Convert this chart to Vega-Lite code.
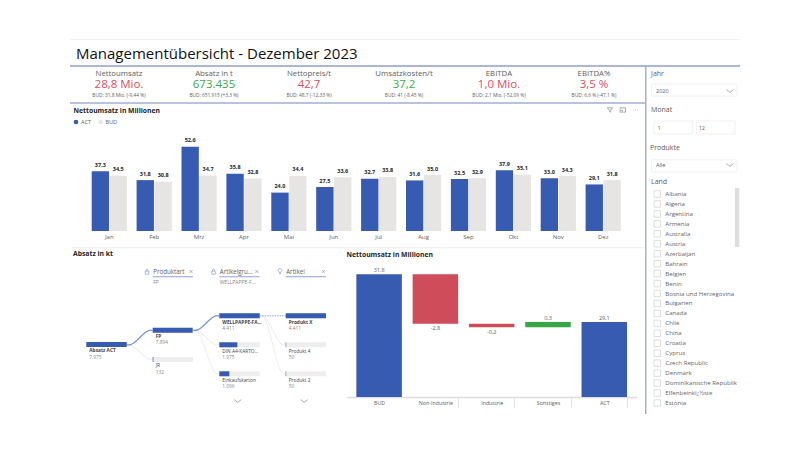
{
"$schema":"https://vega.github.io/schema/vega-lite/v6.json",
"width":800,"height":466,"padding":0,"autosize":{"type":"none"},"background":"#ffffff",
"config":{"view":{"stroke":null},"font":"Open Sans"},
"title":{"text":"Managementübersicht  - Dezember 2023","anchor":"start","frame":"group","offset":0,"dx":76,"dy":74,"fontSize":15,"fontWeight":"normal","font":"Open Sans","color":"#111111","baseline":"alphabetic"},
"resolve":{"scale":{"x":"independent","y":"independent","color":"independent","shape":"independent","size":"independent","strokeDash":"independent"},"axis":{"x":"independent","y":"independent"}},
"layer":[
{"data":{"values":[{"teil":"Rahmen oben"}]},"mark":{"type":"rect","color":"#f1f1f1"},"encoding":{"x":{"field":"teil","type":"nominal","axis":null,"scale":{"type":"band","range":[70,740],"padding":0}},"y":{"field":"teil","type":"nominal","axis":null,"scale":{"type":"band","range":[39,40],"padding":0}}}},
{"data":{"values":[{"teil":"Kopflinie"}]},"mark":{"type":"rect","color":"#8f9fcb"},"encoding":{"x":{"field":"teil","type":"nominal","axis":null,"scale":{"type":"band","range":[70,740],"padding":0}},"y":{"field":"teil","type":"nominal","axis":null,"scale":{"type":"band","range":[65.3,66.8],"padding":0}}}},
{"data":{"values":[{"teil":"KPI-Linie"}]},"mark":{"type":"rect","color":"#a3afd3"},"encoding":{"x":{"field":"teil","type":"nominal","axis":null,"scale":{"type":"band","range":[70,645],"padding":0}},"y":{"field":"teil","type":"nominal","axis":null,"scale":{"type":"band","range":[102.2,103.7],"padding":0}}}},
{"data":{"values":[{"teil":"Trenner"}]},"mark":{"type":"rect","color":"#efefef"},"encoding":{"x":{"field":"teil","type":"nominal","axis":null,"scale":{"type":"band","range":[72,645],"padding":0}},"y":{"field":"teil","type":"nominal","axis":null,"scale":{"type":"band","range":[247.3,248.3],"padding":0}}}},
{"data":{"values":[{"teil":"Seitenlinie"}]},"mark":{"type":"rect","color":"#a3afd3"},"encoding":{"x":{"field":"teil","type":"nominal","axis":null,"scale":{"type":"band","range":[645,646.5],"padding":0}},"y":{"field":"teil","type":"nominal","axis":null,"scale":{"type":"band","range":[66,414],"padding":0}}}},
{"data":{"values":[
{"kpi":"Nettoumsatz","wert":"28,8 Mio.","bud":"BUD: 31,8 Mio. (-9,44 %)","lage":"schlecht"},
{"kpi":"Absatz in t","wert":"673.435","bud":"BUD: 651.915 (+3,3 %)","lage":"gut"},
{"kpi":"Nettopreis/t","wert":"42,7","bud":"BUD: 48,7 (-12,33 %)","lage":"schlecht"},
{"kpi":"Umsatzkosten/t","wert":"37,2","bud":"BUD: 41 (-8,45 %)","lage":"gut"},
{"kpi":"EBITDA","wert":"1,0 Mio.","bud":"BUD: 2,1 Mio. (-52,09 %)","lage":"schlecht"},
{"kpi":"EBITDA%","wert":"3,5 %","bud":"BUD: 6,6 % (-47,1 %)","lage":"schlecht"}]},
"encoding":{"x":{"field":"kpi","type":"nominal","sort":null,"axis":null,"scale":{"type":"point","range":[119,594],"padding":0}}},
"layer":[
{"mark":{"type":"text","fontSize":7.8,"color":"#605e5c"},"encoding":{"text":{"field":"kpi"},"y":{"datum":"titel","type":"nominal","axis":null,"scale":{"type":"point","domain":["titel","wert","bud"],"range":[73.5,96],"padding":0}}}},
{"mark":{"type":"text","fontSize":11.5,"dy":0.7},"encoding":{"text":{"field":"wert"},"y":{"datum":"wert","type":"nominal","axis":null},"color":{"field":"lage","type":"nominal","legend":null,"scale":{"domain":["schlecht","gut"],"range":["#d9505f","#3fa84a"]}}}},
{"mark":{"type":"text","fontSize":4.8,"color":"#605e5c"},"encoding":{"text":{"field":"bud"},"y":{"datum":"bud","type":"nominal","axis":null}}}
]},
{"data":{"values":[{"symbol":"Filter","form":"Filter"},{"symbol":"Fokus","form":"Fokus"},{"symbol":"Mehr","form":"Mehr"}]},
"mark":{"type":"point","filled":false,"size":30,"color":"#8a8a8a","strokeWidth":0.7,"opacity":1},
"encoding":{"x":{"field":"symbol","type":"nominal","sort":null,"axis":null,"scale":{"type":"point","range":[610,635.5],"padding":0}},
"y":{"field":"form","type":"nominal","axis":null,"scale":{"type":"point","range":[110,110],"padding":0}},
"shape":{"field":"symbol","type":"nominal","legend":null,"scale":{"domain":["Filter","Fokus","Mehr"],"range":["M-1,-0.8 H1 L0.2,0.1 V0.8 L-0.2,0.5 V0.1 Z","M-1,-0.2 V-0.8 H1 V0.8 H0.2 M-1,0.1 H-0.1 V0.8 H-1 Z","M-0.9,0 H-0.7 M-0.1,0 H0.1 M0.7,0 H0.9"]}}}},
{"data":{"values":[
{"monat":"Jan","serie":"ACT","wert":37.3,"label":"37,3"},{"monat":"Jan","serie":"BUD","wert":34.5,"label":"34,5"},
{"monat":"Feb","serie":"ACT","wert":31.8,"label":"31,8"},{"monat":"Feb","serie":"BUD","wert":30.8,"label":"30,8"},
{"monat":"Mrz","serie":"ACT","wert":52.6,"label":"52,6"},{"monat":"Mrz","serie":"BUD","wert":34.7,"label":"34,7"},
{"monat":"Apr","serie":"ACT","wert":35.8,"label":"35,8"},{"monat":"Apr","serie":"BUD","wert":32.8,"label":"32,8"},
{"monat":"Mai","serie":"ACT","wert":24.0,"label":"24,0"},{"monat":"Mai","serie":"BUD","wert":34.4,"label":"34,4"},
{"monat":"Jun","serie":"ACT","wert":27.5,"label":"27,5"},{"monat":"Jun","serie":"BUD","wert":33.6,"label":"33,6"},
{"monat":"Jul","serie":"ACT","wert":32.7,"label":"32,7"},{"monat":"Jul","serie":"BUD","wert":33.8,"label":"33,8"},
{"monat":"Aug","serie":"ACT","wert":31.6,"label":"31,6"},{"monat":"Aug","serie":"BUD","wert":35.0,"label":"35,0"},
{"monat":"Sep","serie":"ACT","wert":32.5,"label":"32,5"},{"monat":"Sep","serie":"BUD","wert":32.9,"label":"32,9"},
{"monat":"Okt","serie":"ACT","wert":37.9,"label":"37,9"},{"monat":"Okt","serie":"BUD","wert":35.1,"label":"35,1"},
{"monat":"Nov","serie":"ACT","wert":33.0,"label":"33,0"},{"monat":"Nov","serie":"BUD","wert":34.3,"label":"34,3"},
{"monat":"Dez","serie":"ACT","wert":29.1,"label":"29,1"},{"monat":"Dez","serie":"BUD","wert":31.8,"label":"31,8"}]},
"encoding":{
"x":{"field":"monat","type":"nominal","sort":null,"title":"Nettoumsatz in Millionen","scale":{"type":"band","range":[86.85,625.65],"paddingInner":0.216,"paddingOuter":0.108},
"axis":{"orient":"bottom","offset":-235,"domain":false,"ticks":false,"grid":false,"labelAngle":0,"labelFontSize":6,"labelColor":"#605e5c","labelPadding":2.5,"titleFontSize":6.8,"titleFontWeight":"bold","titleColor":"#252423","titleX":73,"titleY":-121,"titleAlign":"left","titleBaseline":"middle","titleAnchor":"start"}},
"xOffset":{"field":"serie","type":"nominal","scale":{"domain":["ACT","BUD"],"paddingInner":0.03,"paddingOuter":0}},
"y":{"field":"wert","type":"quantitative","axis":null,"scale":{"domain":[0,60],"range":[231,135],"nice":false}}},
"layer":[
{"mark":{"type":"bar"},"encoding":{"color":{"field":"serie","type":"nominal","scale":{"domain":["ACT","BUD"],"range":["#365bb0","#e6e5e3"]},"legend":{"orient":"none","legendX":72.5,"legendY":118.5,"direction":"horizontal","title":null,"symbolType":"circle","symbolSize":22,"labelFontSize":5.5,"labelColor":"#605e5c","labelOffset":1.5,"columnPadding":5.5,"padding":0}}}},
{"mark":{"type":"text","fontSize":5.5,"fontWeight":"bold","color":"#252423","baseline":"bottom","dy":-3.5},"encoding":{"text":{"field":"label"}}}
]},
{"data":{"values":[{"titel":"Absatz in kt"}]},"mark":{"type":"text","fontSize":6.8,"fontWeight":"bold","color":"#252423","align":"left"},"encoding":{"text":{"field":"titel"},"x":{"field":"titel","type":"nominal","axis":null,"scale":{"type":"point","range":[73,73]}},"y":{"field":"titel","type":"nominal","axis":null,"scale":{"type":"point","range":[254,254]}}}},
{"encoding":{"x":{"field":"spalte","type":"quantitative","axis":null,"scale":{"domain":[0,3],"range":[86.3,285.7],"nice":false,"zero":false}}},
"layer":[
{"data":{"values":[{"spalte":1,"ende":1.607,"titel":"Produktart","wahl":"FP"},{"spalte":2,"ende":2.607,"titel":"Artikelgru...","wahl":"WELLPAPPE-F..."},{"spalte":3,"ende":3.607,"titel":"Artikel","wahl":""}]},
"mark":{"type":"rule","color":"#8ea2dc","strokeWidth":1},"encoding":{"x2":{"field":"ende"},"y":{"datum":"linie","type":"nominal","axis":null,"scale":{"type":"point","domain":["titel","linie","wahl"],"range":[271.5,282],"padding":0}}}},
{"data":{"values":[{"spalte":1,"ende":1.607,"titel":"Produktart","wahl":"FP"},{"spalte":2,"ende":2.607,"titel":"Artikelgru...","wahl":"WELLPAPPE-F..."},{"spalte":3,"ende":3.607,"titel":"Artikel","wahl":""}]},
"mark":{"type":"text","fontSize":6.2,"color":"#605e5c","align":"left","dx":0.5},"encoding":{"text":{"field":"titel"},"y":{"datum":"titel","type":"nominal","axis":null}}},
{"data":{"values":[{"spalte":1,"ende":1.607,"titel":"Produktart","wahl":"FP"},{"spalte":2,"ende":2.607,"titel":"Artikelgru...","wahl":"WELLPAPPE-F..."},{"spalte":3,"ende":3.607,"titel":"Artikel","wahl":""}]},
"mark":{"type":"text","fontSize":5,"color":"#8a8886","align":"left","dx":0.5},"encoding":{"text":{"field":"wahl"},"y":{"datum":"wahl","type":"nominal","axis":null}}},
{"data":{"values":[{"spalte":0.914,"symbol":"Schloss"},{"spalte":1.576,"symbol":"Schließen"},{"spalte":1.914,"symbol":"Schloss"},{"spalte":2.566,"symbol":"Schließen"},{"spalte":2.914,"symbol":"Lampe"},{"spalte":3.566,"symbol":"Schließen"}]},
"mark":{"type":"point","filled":false,"size":30,"strokeWidth":0.6,"opacity":1},
"encoding":{"y":{"datum":"titel","type":"nominal","axis":null},
"shape":{"field":"symbol","type":"nominal","legend":null,"scale":{"domain":["Schloss","Schließen","Lampe"],"range":["M-0.65,-0.1 H0.65 V1 H-0.65 Z M-0.35,-0.1 V-0.55 A0.35,0.35 0 0 1 0.35,-0.55 V-0.1","M-0.55,-0.55 L0.55,0.55 M-0.55,0.55 L0.55,-0.55","M-0.25,0.65 H0.25 M-0.25,0.9 H0.25 M-0.2,0.4 C-0.2,0.1 -0.7,-0.1 -0.7,-0.4 A0.7,0.7 0 0 1 0.7,-0.4 C0.7,-0.1 0.2,0.1 0.2,0.4 Z"]}},
"color":{"field":"symbol","type":"nominal","legend":null,"scale":{"domain":["Schloss","Schließen","Lampe"],"range":["#7b93d6","#8a8886","#7b93d6"]}}}}
]},
{"data":{"values":[
{"link":"Absatz-JR","art":"inaktiv","spalte":0.607,"reihe":1},{"link":"Absatz-JR","art":"inaktiv","spalte":0.64,"reihe":1},{"link":"Absatz-JR","art":"inaktiv","spalte":0.97,"reihe":1.5},{"link":"Absatz-JR","art":"inaktiv","spalte":1,"reihe":1.5},
{"link":"FP-DIN","art":"inaktiv","spalte":1.607,"reihe":0.5},{"link":"FP-DIN","art":"inaktiv","spalte":1.64,"reihe":0.5},{"link":"FP-DIN","art":"inaktiv","spalte":1.97,"reihe":1},{"link":"FP-DIN","art":"inaktiv","spalte":2,"reihe":1},
{"link":"FP-Ein","art":"inaktiv","spalte":1.607,"reihe":0.5},{"link":"FP-Ein","art":"inaktiv","spalte":1.64,"reihe":0.5},{"link":"FP-Ein","art":"inaktiv","spalte":1.97,"reihe":2},{"link":"FP-Ein","art":"inaktiv","spalte":2,"reihe":2},
{"link":"W-P4","art":"inaktiv","spalte":2.607,"reihe":0},{"link":"W-P4","art":"inaktiv","spalte":2.64,"reihe":0},{"link":"W-P4","art":"inaktiv","spalte":2.97,"reihe":1},{"link":"W-P4","art":"inaktiv","spalte":3,"reihe":1},
{"link":"W-P2","art":"inaktiv","spalte":2.607,"reihe":0},{"link":"W-P2","art":"inaktiv","spalte":2.64,"reihe":0},{"link":"W-P2","art":"inaktiv","spalte":2.97,"reihe":2},{"link":"W-P2","art":"inaktiv","spalte":3,"reihe":2},
{"link":"Absatz-FP","art":"aktiv","spalte":0.607,"reihe":1},{"link":"Absatz-FP","art":"aktiv","spalte":0.64,"reihe":1},{"link":"Absatz-FP","art":"aktiv","spalte":0.97,"reihe":0.5},{"link":"Absatz-FP","art":"aktiv","spalte":1,"reihe":0.5},
{"link":"FP-W","art":"aktiv","spalte":1.607,"reihe":0.5},{"link":"FP-W","art":"aktiv","spalte":1.64,"reihe":0.5},{"link":"FP-W","art":"aktiv","spalte":1.97,"reihe":0},{"link":"FP-W","art":"aktiv","spalte":2,"reihe":0},
{"link":"W-X","art":"auswahl","spalte":2.607,"reihe":0},{"link":"W-X","art":"auswahl","spalte":3,"reihe":0}]},
"mark":{"type":"line","interpolate":"monotone"},
"encoding":{"x":{"field":"spalte","type":"quantitative","axis":null,"scale":{"domain":[0,3],"range":[86.3,285.7],"nice":false,"zero":false}},
"y":{"field":"reihe","type":"quantitative","axis":null,"scale":{"domain":[0,2],"range":[315.8,373.8],"nice":false,"zero":false}},
"detail":{"field":"link"},
"color":{"field":"art","type":"nominal","legend":null,"scale":{"domain":["aktiv","inaktiv","auswahl"],"range":["#7b93d6","#eeeeee","#7b93d6"]}},
"strokeDash":{"field":"art","type":"nominal","legend":null,"scale":{"domain":["aktiv","inaktiv","auswahl"],"range":[[1,0],[1,0],[1.5,1]]}},
"size":{"field":"art","type":"nominal","legend":null,"scale":{"domain":["aktiv","inaktiv","auswahl"],"range":[1.3,0.8,1.5]}}}},
{"data":{"values":[{"knoten":"Absatz ACT","wert":7975,"max":7975,"text":"7.975"}]},
"encoding":{"y":{"field":"knoten","type":"nominal","axis":null,"scale":{"type":"band","range":[342,347],"padding":0}}},
"layer":[
{"mark":{"type":"bar"},"encoding":{"x":{"field":"max","type":"quantitative","axis":null,"scale":{"domain":[0,7975],"range":[86.3,126.7],"nice":false}},"color":{"value":"#365bb0"}}},
{"mark":{"type":"text","fontSize":4.8,"fontWeight":"bold","color":"#444444","align":"left","dx":3,"dy":6.8},"encoding":{"text":{"field":"knoten"},"x":{"datum":0,"type":"quantitative"}}},
{"mark":{"type":"text","fontSize":4.8,"color":"#8a8886","align":"left","dx":3,"dy":13.2},"encoding":{"text":{"field":"text"},"x":{"datum":0,"type":"quantitative"}}}
]},
{"data":{"values":[{"knoten":"FP","wert":7894,"max":7975,"text":"7.894","aktiv":true},{"knoten":"JR","wert":132,"max":7975,"text":"132","aktiv":false}]},
"encoding":{"y":{"field":"knoten","type":"nominal","sort":null,"axis":null,"scale":{"type":"band","range":[327.7,362],"paddingInner":0.829,"paddingOuter":0}}},
"layer":[
{"mark":{"type":"bar","color":"#eeeeee"},"encoding":{"x":{"field":"max","type":"quantitative","axis":null,"scale":{"domain":[0,7975],"range":[152.7,193.1],"nice":false}}}},
{"mark":{"type":"bar","color":"#365bb0"},"encoding":{"x":{"field":"wert","type":"quantitative"}}},
{"mark":{"type":"text","fontSize":4.8,"fontWeight":{"expr":"datum.aktiv?'bold':'normal'"},"color":"#444444","align":"left","dx":3,"dy":6.8},"encoding":{"text":{"field":"knoten"},"x":{"datum":0,"type":"quantitative"}}},
{"mark":{"type":"text","fontSize":4.8,"color":"#8a8886","align":"left","dx":3,"dy":13.2},"encoding":{"text":{"field":"text"},"x":{"datum":0,"type":"quantitative"}}}
]},
{"data":{"values":[{"knoten":"WELLPAPPE-FA...","wert":4411,"max":4411,"text":"4.411","aktiv":true},{"knoten":"DIN A4-KARTO...","wert":1975,"max":4411,"text":"1.975","aktiv":false},{"knoten":"Einkaufskarton","wert":1096,"max":4411,"text":"1.096","aktiv":false}]},
"encoding":{"y":{"field":"knoten","type":"nominal","sort":null,"axis":null,"scale":{"type":"band","range":[313.3,376.3],"paddingInner":0.8276,"paddingOuter":0}}},
"layer":[
{"mark":{"type":"bar","color":"#eeeeee"},"encoding":{"x":{"field":"max","type":"quantitative","axis":null,"scale":{"domain":[0,4411],"range":[219.3,259.7],"nice":false}}}},
{"mark":{"type":"bar","color":"#365bb0"},"encoding":{"x":{"field":"wert","type":"quantitative"}}},
{"mark":{"type":"text","fontSize":4.8,"fontWeight":{"expr":"datum.aktiv?'bold':'normal'"},"color":"#444444","align":"left","dx":3,"dy":6.8},"encoding":{"text":{"field":"knoten"},"x":{"datum":0,"type":"quantitative"}}},
{"mark":{"type":"text","fontSize":4.8,"color":"#8a8886","align":"left","dx":3,"dy":13.2},"encoding":{"text":{"field":"text"},"x":{"datum":0,"type":"quantitative"}}}
]},
{"data":{"values":[{"knoten":"Produkt X","wert":4411,"max":4411,"text":"4.411","aktiv":true},{"knoten":"Produkt 4","wert":50,"max":4411,"text":"50","aktiv":false},{"knoten":"Produkt 2","wert":50,"max":4411,"text":"50","aktiv":false}]},
"encoding":{"y":{"field":"knoten","type":"nominal","sort":null,"axis":null,"scale":{"type":"band","range":[313.3,376.3],"paddingInner":0.8276,"paddingOuter":0}}},
"layer":[
{"mark":{"type":"bar","color":"#eeeeee"},"encoding":{"x":{"field":"max","type":"quantitative","axis":null,"scale":{"domain":[0,4411],"range":[285.7,326],"nice":false}}}},
{"mark":{"type":"bar","color":"#365bb0"},"encoding":{"x":{"field":"wert","type":"quantitative"}}},
{"mark":{"type":"text","fontSize":4.8,"fontWeight":{"expr":"datum.aktiv?'bold':'normal'"},"color":"#444444","align":"left","dx":3,"dy":6.8},"encoding":{"text":{"field":"knoten"},"x":{"datum":0,"type":"quantitative"}}},
{"mark":{"type":"text","fontSize":4.8,"color":"#8a8886","align":"left","dx":3,"dy":13.2},"encoding":{"text":{"field":"text"},"x":{"datum":0,"type":"quantitative"}}}
]},
{"data":{"values":[{"stelle":"Artikelgruppe"},{"stelle":"Artikel"}]},"mark":{"type":"point","filled":false,"size":50,"strokeWidth":0.7,"color":"#8a8886","opacity":1,"shape":"M-1,-0.4 L0,0.4 L1,-0.4"},
"encoding":{"x":{"field":"stelle","type":"nominal","sort":null,"axis":null,"scale":{"type":"point","range":[237.7,304.3],"padding":0}},"y":{"datum":"unten","type":"nominal","axis":null,"scale":{"type":"point","domain":["unten"],"range":[401,401]}}}},
{"data":{"values":[
{"stufe":"BUD","von":0,"bis":31.8,"art":"Summe","label":"31,8","richtung":"auf"},
{"stufe":"Non-Industrie","von":31.8,"bis":29.0,"art":"Minus","label":"-2,8","richtung":"ab"},
{"stufe":"Industrie","von":29.0,"bis":28.8,"art":"Minus","label":"-0,2","richtung":"ab"},
{"stufe":"Sonstiges","von":28.8,"bis":29.1,"art":"Plus","label":"0,3","richtung":"auf"},
{"stufe":"ACT","von":0,"bis":29.1,"art":"Summe","label":"29,1","richtung":"auf"}]},
"encoding":{"x":{"field":"stufe","type":"nominal","sort":null,"title":"Nettoumsatz in Millionen","scale":{"type":"band","range":[346.7,636.7],"paddingInner":0.192,"paddingOuter":0.1715},
"axis":{"orient":"bottom","offset":-69,"labelAngle":0,"grid":false,"domain":true,"domainColor":"#dcdcdc","domainWidth":1.5,"ticks":true,"tickBand":"extent","tickOffset":-5.4,"tickColor":"#dcdcdc","tickSize":10,"tickWidth":0.8,"tickOpacity":{"condition":{"test":"datum.index==0||datum.extra","value":0},"value":1},"labelFontSize":5.3,"labelColor":"#605e5c","labelPadding":-6.5,"titleFontSize":6.8,"titleFontWeight":"bold","titleColor":"#252423","titleX":346,"titleY":-143,"titleAlign":"left","titleBaseline":"middle","titleAnchor":"start"}}},
"layer":[
{"mark":{"type":"bar"},"encoding":{"y":{"field":"von","type":"quantitative","axis":null,"scale":{"domain":[24.86,31.8],"range":[397,274.3],"nice":false,"zero":false,"clamp":true}},"y2":{"field":"bis"},"color":{"field":"art","type":"nominal","legend":null,"scale":{"domain":["Summe","Minus","Plus"],"range":["#365bb0","#cf4c5a","#35a746"]}}}},
{"transform":[{"filter":"datum.richtung=='auf'"}],"mark":{"type":"text","fontSize":5.5,"color":"#605e5c","baseline":"bottom","dy":-1.5},"encoding":{"text":{"field":"label"},"y":{"field":"bis","type":"quantitative"}}},
{"transform":[{"filter":"datum.richtung=='ab'"}],"mark":{"type":"text","fontSize":5.5,"color":"#605e5c","baseline":"top","dy":2.5},"encoding":{"text":{"field":"label"},"y":{"field":"bis","type":"quantitative"}}}
]},
{"data":{"values":[{"feld":"Jahr"},{"feld":"Produkte"}]},"mark":{"type":"rect","fill":"#ffffff","stroke":"#eeeeee","strokeWidth":0.8},
"encoding":{"x":{"datum":"Auswahl","type":"nominal","axis":null,"scale":{"type":"band","range":[651.5,737],"padding":0}},"y":{"field":"feld","type":"nominal","sort":null,"axis":null,"scale":{"type":"band","range":[84,172],"paddingInner":0.84,"paddingOuter":0}}}},
{"data":{"values":[{"feld":"von","wert":"1"},{"feld":"bis","wert":"12"}]},
"encoding":{"x":{"field":"feld","type":"nominal","sort":null,"axis":null,"scale":{"type":"band","range":[654,735],"paddingInner":0.1,"paddingOuter":0}},"y":{"datum":"Monat","type":"nominal","axis":null,"scale":{"type":"band","range":[121,134],"padding":0}}},
"layer":[
{"mark":{"type":"rect","fill":"#ffffff","stroke":"#eeeeee","strokeWidth":0.8}},
{"mark":{"type":"text","fontSize":5.5,"color":"#605e5c","align":"center","dx":-14},"encoding":{"text":{"field":"wert"}}}
]},
{"data":{"values":[{"zeile":"Jahr","art":"titel"},{"zeile":"2020","art":"wert"}]},"mark":{"type":"text","align":"left","fontSize":7,"color":"#605e5c"},"encoding":{"text":{"field":"zeile"},"size":{"condition":{"test":"datum.art=='wert'","value":5.5},"value":7},"x":{"field":"art","type":"nominal","sort":null,"axis":null,"scale":{"type":"point","range":[651,656],"padding":0}},"y":{"field":"zeile","type":"nominal","sort":null,"axis":null,"scale":{"type":"point","range":[74,91],"padding":0}}}},
{"data":{"values":[{"zeile":"Monat"}]},"mark":{"type":"text","align":"left","fontSize":7,"color":"#605e5c"},"encoding":{"text":{"field":"zeile"},"x":{"field":"zeile","type":"nominal","axis":null,"scale":{"type":"point","range":[651,651]}},"y":{"field":"zeile","type":"nominal","axis":null,"scale":{"type":"point","range":[110,110]}}}},
{"data":{"values":[{"zeile":"Produkte","art":"titel"},{"zeile":"Alle","art":"wert"}]},"mark":{"type":"text","align":"left","fontSize":7,"color":"#605e5c"},"encoding":{"text":{"field":"zeile"},"size":{"condition":{"test":"datum.art=='wert'","value":5.5},"value":7},"x":{"field":"art","type":"nominal","sort":null,"axis":null,"scale":{"type":"point","range":[650,656],"padding":0}},"y":{"field":"zeile","type":"nominal","sort":null,"axis":null,"scale":{"type":"point","range":[148,165],"padding":0}}}},
{"data":{"values":[{"zeile":"Land"}]},"mark":{"type":"text","align":"left","fontSize":7,"color":"#605e5c"},"encoding":{"text":{"field":"zeile"},"x":{"field":"zeile","type":"nominal","axis":null,"scale":{"type":"point","range":[651,651]}},"y":{"field":"zeile","type":"nominal","axis":null,"scale":{"type":"point","range":[182,182]}}}},
{"data":{"values":[{"feld":"Jahr"},{"feld":"Produkte"}]},"mark":{"type":"point","filled":false,"size":50,"strokeWidth":0.7,"color":"#8a8886","opacity":1,"shape":"M-1,-0.4 L0,0.4 L1,-0.4"},
"encoding":{"x":{"datum":"Pfeil","type":"nominal","axis":null,"scale":{"type":"point","range":[730,730]}},"y":{"field":"feld","type":"nominal","sort":null,"axis":null,"scale":{"type":"point","range":[91,165],"padding":0}}}},
{"data":{"values":[{"teil":"Bildlauf"}]},"mark":{"type":"rect","color":"#dedede"},"encoding":{"x":{"field":"teil","type":"nominal","axis":null,"scale":{"type":"band","range":[735,739.3],"padding":0}},"y":{"field":"teil","type":"nominal","axis":null,"scale":{"type":"band","range":[188,247],"padding":0}}}},
{"data":{"values":[{"land":"Albania"},{"land":"Algeria"},{"land":"Argentina"},{"land":"Armenia"},{"land":"Australia"},{"land":"Austria"},{"land":"Azerbaijan"},{"land":"Bahrain"},{"land":"Belgien"},{"land":"Benin"},{"land":"Bosnia und Herzegovina"},{"land":"Bulgarien"},{"land":"Canada"},{"land":"Chile"},{"land":"China"},{"land":"Croatia"},{"land":"Cyprus"},{"land":"Czech Republic"},{"land":"Denmark"},{"land":"Dominikanische Republik"},{"land":"Elfenbeinkï¿½ste"},{"land":"Estonia"}]},
"encoding":{"y":{"field":"land","type":"nominal","sort":null,"axis":null,"scale":{"type":"point","range":[194,403],"padding":0}}},
"layer":[
{"mark":{"type":"point","shape":"square","filled":false,"size":42,"strokeWidth":0.6,"color":"#c8c8c8","opacity":1},"encoding":{"x":{"datum":"Feld","type":"nominal","axis":null,"scale":{"type":"point","domain":["Feld","Text"],"range":[657.3,665.3],"padding":0}}}},
{"mark":{"type":"text","align":"left","fontSize":6.1,"color":"#666666"},"encoding":{"text":{"field":"land"},"x":{"datum":"Text","type":"nominal"}}}
]}
]}
